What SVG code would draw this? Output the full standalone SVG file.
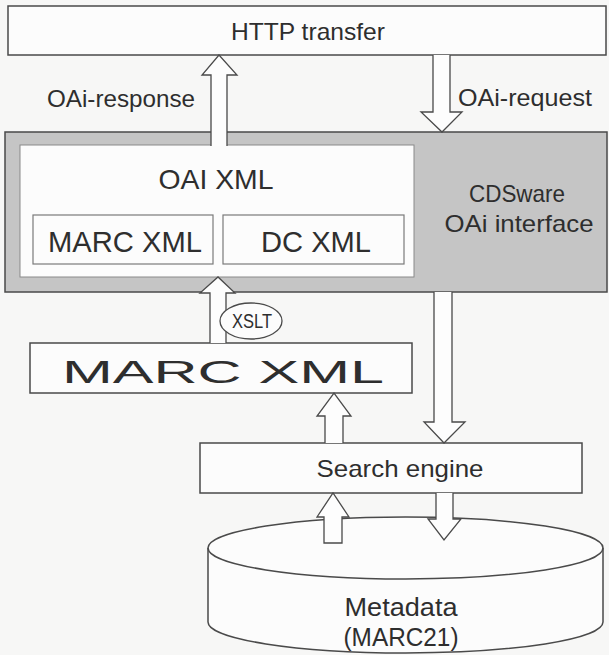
<svg xmlns="http://www.w3.org/2000/svg" width="609" height="655" viewBox="0 0 609 655">
<defs>
<style>
.box{fill:#fcfcfc;stroke:#4a4a4a;stroke-width:1.5}
.inner{fill:#fcfcfc;stroke:#7a7a7a;stroke-width:1.2}
.gray{fill:#c5c5c5;stroke:#4a4a4a;stroke-width:1.5}
.arrow{fill:#fdfdfd;stroke:#4a4a4a;stroke-width:1.3;stroke-linejoin:miter}
.t{font-family:"Liberation Sans",Arial,sans-serif;fill:#2e2e2e;text-anchor:middle}
</style>
</defs>
<rect x="0" y="0" width="609" height="655" fill="#f7f7f6"/>

<g id="http-transfer">
<rect class="box" x="8" y="6" width="598" height="49"/>
<text class="t" x="308" y="40" font-size="24" textLength="154" lengthAdjust="spacingAndGlyphs">HTTP transfer</text>
</g>

<g id="cdsware-oai-interface">
<rect class="gray" x="5" y="132" width="602" height="160"/>
<text class="t" x="517" y="202" font-size="24" textLength="96" lengthAdjust="spacingAndGlyphs">CDSware</text>
<text class="t" x="519" y="232" font-size="24" textLength="149" lengthAdjust="spacingAndGlyphs">OAi interface</text>
</g>

<g id="oai-xml">
<rect x="20" y="145" width="394" height="132" fill="#fcfcfc" stroke="#8a8a8a" stroke-width="1"/>
<text class="t" x="216" y="189" font-size="28" textLength="115" lengthAdjust="spacingAndGlyphs">OAI XML</text>
</g>

<g id="marc-xml-inner">
<rect class="inner" x="33" y="215" width="180" height="49"/>
<text class="t" x="125" y="252" font-size="29" textLength="154" lengthAdjust="spacingAndGlyphs">MARC XML</text>
</g>

<g id="dc-xml">
<rect class="inner" x="223" y="215" width="181" height="49"/>
<text class="t" x="316" y="252" font-size="29" textLength="110" lengthAdjust="spacingAndGlyphs">DC XML</text>
</g>

<g id="marc-xml">
<rect class="box" x="30" y="343" width="382" height="50"/>
<text class="t" x="223" y="383" font-size="31" textLength="322" lengthAdjust="spacingAndGlyphs">MARC XML</text>
</g>

<g id="search-engine">
<rect class="box" x="200" y="443" width="382" height="50"/>
<text class="t" x="400" y="477" font-size="24" textLength="167" lengthAdjust="spacingAndGlyphs">Search engine</text>
</g>

<g id="metadata">
<path d="M208 548 A197.5 31 0 0 1 603 548 L603 622 A197.5 31 0 0 1 208 622 Z" fill="#fcfcfc" stroke="#4a4a4a" stroke-width="1.5"/>
<path d="M208 548 A197.5 31 0 0 0 603 548" fill="none" stroke="#4a4a4a" stroke-width="1.5"/>
<text class="t" x="401" y="616" font-size="25" textLength="113" lengthAdjust="spacingAndGlyphs">Metadata</text>
<text class="t" x="401" y="646" font-size="25" textLength="115" lengthAdjust="spacingAndGlyphs">(MARC21)</text>
</g>

<g id="connectors">
<path class="arrow" d="M211 146 L211 75 L202 75 L219 55 L237 75 L227 75 L227 146"/>
<path class="arrow" d="M433 55 L433 112 L421 112 L442 132 L462 112 L450 112 L450 55"/>
<path class="arrow" d="M210 343 L210 293 L200 293 L218 277 L235 293 L226 293 L226 343"/>
<path class="arrow" d="M434 292 L434 422 L424 422 L444 443 L465 422 L452 422 L452 292"/>
<path class="arrow" d="M325 443 L325 416 L317 416 L334 393 L351 416 L343 416 L343 443"/>
<path class="arrow" d="M324 543 L324 517 L317 517 L333 493 L349 517 L342 517 L342 543 Z"/>
<path class="arrow" d="M436 493 L436 519 L428 519 L444 540 L461 519 L453 519 L453 493"/>
<text class="t" x="121" y="107" font-size="24" textLength="148" lengthAdjust="spacingAndGlyphs">OAi-response</text>
<text class="t" x="525" y="106" font-size="24" textLength="134" lengthAdjust="spacingAndGlyphs">OAi-request</text>
<g id="xslt">
<ellipse cx="251" cy="321" rx="31" ry="18" fill="#fcfcfc" stroke="#4a4a4a" stroke-width="1.3"/>
<text class="t" x="252" y="328" font-size="20" textLength="40" lengthAdjust="spacingAndGlyphs">XSLT</text>
</g>
</g>
</svg>
